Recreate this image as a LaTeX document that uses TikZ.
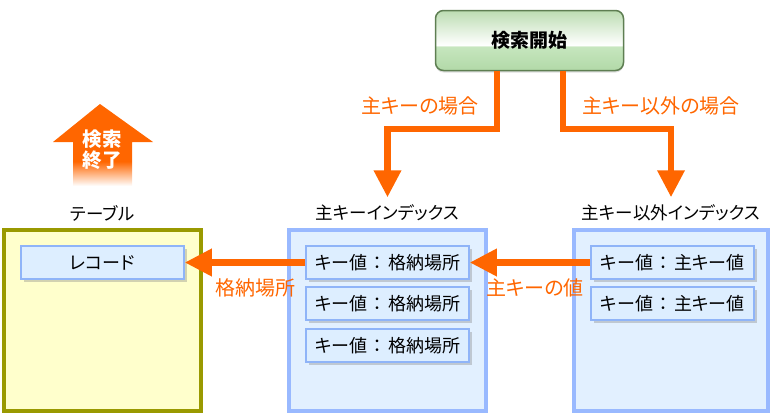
\documentclass[tikz,border=0pt]{standalone}
\usepackage{fontspec}
\setmainfont{Noto Sans CJK JP}[RawFeature={+palt}]
\usepackage{tikz}
\usetikzlibrary{arrows.meta,shadows}
\definecolor{orng}{HTML}{FF6600}
\definecolor{tblline}{HTML}{999900}
\definecolor{tblfill}{HTML}{FFFFCC}
\definecolor{idxline}{HTML}{99B9FF}
\definecolor{idxfill}{HTML}{E2F0FF}
\definecolor{entline}{HTML}{8FB4F8}
\definecolor{entfill}{HTML}{DDEEFF}
\definecolor{startline}{HTML}{5E7E52}
\definecolor{gbot}{HTML}{B2D9A8}
\definecolor{gmid}{HTML}{C6E6BE}
\definecolor{gtop}{HTML}{BCDDB2}
\pgfdeclareverticalshading{gloss}{100bp}{color(0bp)=(gbot); color(25bp)=(gbot); color(45bp)=(gmid); color(46bp)=(white); color(75bp)=(gtop); color(100bp)=(gtop)}
\pgfdeclareverticalshading{upfade}{100bp}{color(0bp)=(white); color(25bp)=(white); color(40bp)=(orng); color(100bp)=(orng)}
\newcommand{\sep}{\hspace{6pt}：\hspace{6pt}}
\tikzset{
  startbox/.style={draw=startline, line width=1.5pt, rounded corners=8pt, shading=gloss,
    minimum width=188pt, minimum height=60pt, font=\fontsize{19}{22}\selectfont\bfseries,
    drop shadow={opacity=0.25, shadow xshift=0pt, shadow yshift=-2pt}},
  caption/.style={font=\fontsize{17.5}{20}\selectfont},
  note/.style={text=orng, font=\fontsize{20}{23}\selectfont},
  tablebox/.style={draw=tblline, fill=tblfill, line width=4pt, minimum width=197pt, minimum height=181pt},
  idxbox/.style={draw=idxline, fill=idxfill, line width=4pt, minimum width=197pt, minimum height=181pt},
  entry/.style={draw=entline, fill=entfill, line width=1.5pt, minimum width=163pt, minimum height=33pt,
    font=\fontsize{18}{20}\selectfont,
    drop shadow={opacity=0.35, shadow xshift=2.5pt, shadow yshift=-2.5pt}},
  flow/.style={draw=orng, line width=6.5pt, -{Triangle[width=26pt,length=27pt]}}
}
\begin{document}
\begin{tikzpicture}[x=1pt,y=-1pt]
  \useasboundingbox (0,0) rectangle (775,415);
  %%%%% START %%%%%
  \node[startbox] (start) at (529.5,40.5) {検索開始};

  \shade[shading=upfade] (100,104) -- (153,142) -- (132,142) -- (132,186)
    -- (73,186) -- (73,142) -- (53,142) -- cycle;
  \node[align=center, text=white, font=\fontsize{19.5}{21}\selectfont\bfseries] (fin) at (102,150) {検索\\終了};

  %%%%% boxes %%%%%
  \node[caption] (thead) at (102.5,213) {テーブル};
  \node[caption] (phead) at (387.5,213) {主キーインデックス};
  \node[caption] (shead) at (671,213) {主キー以外インデックス};

  \node[tablebox] (table) at (102.5,320.5) {};
  \node[idxbox] (pidx) at (387.5,320.5) {};
  \node[idxbox, minimum width=194pt] (sidx) at (671,320.5) {};

  \node[entry] (rec) at (102.5,262.5) {レコード};
  \node[entry] (p1) at (387.5,262.5) {キー値\sep 格納場所};
  \node[entry] (p2) at (387.5,303.5) {キー値\sep 格納場所};
  \node[entry] (p3) at (387.5,345.5) {キー値\sep 格納場所};
  \node[entry] (s1) at (672.5,262.5) {キー値\sep 主キー値};
  \node[entry] (s2) at (672.5,303.5) {キー値\sep 主キー値};

  %%%%% arrows %%%%%
  \draw[flow] ([xshift=-32.5pt]start.south) -- ++(0,57.5) -| ([yshift=4pt]phead.north);
  \draw[flow] ([xshift=33.5pt]start.south) -- ++(0,57.5) -| ([yshift=4pt]shead.north);
  \draw[flow] (s1.west) -- (p1.east);
  \draw[flow] (p1.west) -- (rec.east);

  \node[note] (lprim) at (420,106) {主キーの場合};
  \node[note] (lsec) at (661,106) {主キー以外の場合};
  \node[note] (lval) at (535,288) {主キーの値};
  \node[note] (lloc) at (255,288) {格納場所};
  %%%%% END %%%%%
\end{tikzpicture}
\end{document}
